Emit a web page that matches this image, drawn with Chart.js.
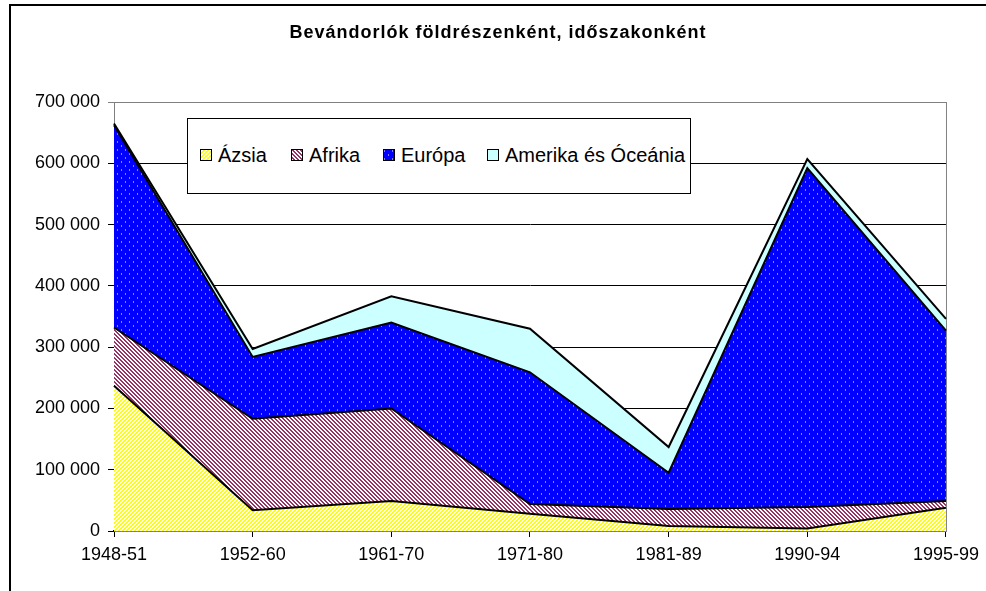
<!DOCTYPE html>
<html>
<head>
<meta charset="utf-8">
<script src="https://cdn.jsdelivr.net/npm/chart.js@4.4.0/dist/chart.umd.min.js"></script>
<style>
  body { margin: 0; background: #fff; overflow: hidden; font-family: "Liberation Sans", Arial, sans-serif; }
  #wrap { position: relative; width: 986px; height: 591px; }
  #frame { position: absolute; left: 9px; top: 4px; width: 1200px; height: 800px; border: 1px solid #000; border-width: 2px 0 0 2px; }
  #title { position: absolute; left: 0; width: 996px; top: 22px; text-align: center; font-weight: bold; font-size: 18px; letter-spacing: 1px; }
  #legend { position: absolute; left: 187px; top: 118px; width: 502px; height: 74px; background: #fff; border: 1px solid #000; }
  .item { position: absolute; top: 25px; font-size: 20px; line-height: 22px; white-space: nowrap; }
  .item canvas { position: absolute; top: 5px; left: 0; }
  .item span { position: absolute; left: 18px; top: 0; }
  canvas#chart { position: absolute; left: 0; top: 0; }
</style>
</head>
<body>
<div id="wrap">
  <div id="frame"></div>
  <canvas id="chart" width="986" height="591"></canvas>
  <div id="title">Bevándorlók földrészenként, időszakonként</div>
  <div id="legend"></div>
</div>
<script>
const periods = ["1948-51", "1952-60", "1961-70", "1971-80", "1981-89", "1990-94", "1995-99"];
const azsia   = [237000, 34000, 49000, 28000, 8000, 4000, 38000];
const afrika  = [95000, 149000, 151000, 16000, 28000, 35000, 11000];
const europa  = [330000, 101000, 140000, 215000, 59000, 553000, 278000];
const amerika = [3000, 13000, 43000, 71000, 42000, 15000, 19000];
const seriesNames = ["Ázsia", "Afrika", "Európa", "Amerika és Óceánia"];

// small tiles for the Excel-like fill patterns
function stripes(color, dir) {
  const c = document.createElement("canvas");
  c.width = c.height = 4;
  const g = c.getContext("2d");
  g.fillStyle = "#fff";
  g.fillRect(0, 0, 4, 4);
  g.fillStyle = color;
  for (let x = 0; x < 4; x++) {
    for (let y = 0; y < 4; y++) {
      const k = dir === "/" ? (x + y) % 4 : (x - y + 8) % 4;
      if (k < 2) g.fillRect(x, y, 1, 1);
    }
  }
  return g.createPattern(c, "repeat");
}

function dots() {
  const c = document.createElement("canvas");
  c.width = c.height = 8;
  const g = c.getContext("2d");
  g.fillStyle = "#0000ff";
  g.fillRect(0, 0, 8, 8);
  g.fillStyle = "#8080ff";
  g.fillRect(1, 1, 1, 2);
  g.fillRect(5, 5, 1, 2);
  return g.createPattern(c, "repeat");
}

const fills = [stripes("#ffff00", "/"), stripes("#993366", "\\"), dots(), "#ccffff"];
const values = [azsia, afrika, europa, amerika];

// legend
const legend = document.getElementById("legend");
const itemX = [12, 103, 195, 299];
seriesNames.forEach((name, i) => {
  const item = document.createElement("div");
  item.className = "item";
  item.style.left = itemX[i] + "px";
  const sw = document.createElement("canvas");
  sw.width = 12; sw.height = 12;
  const g = sw.getContext("2d");
  g.fillStyle = fills[i];
  g.fillRect(0, 0, 12, 12);
  g.strokeStyle = "#000";
  g.lineWidth = 1;
  g.strokeRect(0.5, 0.5, 11, 11);
  const label = document.createElement("span");
  label.textContent = name;
  item.appendChild(sw);
  item.appendChild(label);
  legend.appendChild(item);
});

const plotFrame = {
  id: "plotFrame",
  beforeDatasetsDraw(chart) {
    const a = chart.chartArea;
    const ctx = chart.ctx;
    ctx.save();
    ctx.strokeStyle = "#808080";
    ctx.lineWidth = 1;
    ctx.strokeRect(a.left + 0.5, a.top + 0.5, a.right - a.left, a.bottom - a.top);
    ctx.restore();
  }
};

Chart.defaults.font.family = "'Liberation Sans', Arial, sans-serif";
Chart.defaults.color = "#000";

new Chart(document.getElementById("chart"), {
  type: "line",
  data: {
    labels: periods,
    datasets: seriesNames.map((name, i) => ({
      label: name,
      data: values[i],
      backgroundColor: fills[i],
      borderColor: "#000",
      borderWidth: 2,
      pointRadius: 0,
      tension: 0,
      fill: i === 0 ? "origin" : "-1"
    }))
  },
  options: {
    responsive: false,
    animation: false,
    devicePixelRatio: 1,
    layout: { padding: { top: 102, right: 40, left: 0, bottom: 0 } },
    plugins: { legend: { display: false }, tooltip: { enabled: false } },
    scales: {
      x: {
        offset: false,
        grid: { drawOnChartArea: false, tickLength: 6, color: "#000", offset: false },
        border: { color: "#000", width: 2 },
        ticks: { font: { size: 18 }, padding: 7, maxRotation: 0 },
        afterFit(scale) { scale.height = 60; }
      },
      y: {
        stacked: true,
        min: 0,
        max: 700000,
        grid: {
          color: ctx => (ctx.tick && ctx.tick.value === 700000 ? "#808080" : "#000"),
          tickLength: 6
        },
        border: { color: "#000", width: 1 },
        ticks: {
          stepSize: 100000,
          font: { size: 18 },
          padding: 8,
          callback: v => String(v).replace(/\B(?=(\d{3})+(?!\d))/g, " ")
        },
        afterFit(scale) { scale.width = 114; }
      }
    }
  },
  plugins: [plotFrame]
});
</script>
</body>
</html>
